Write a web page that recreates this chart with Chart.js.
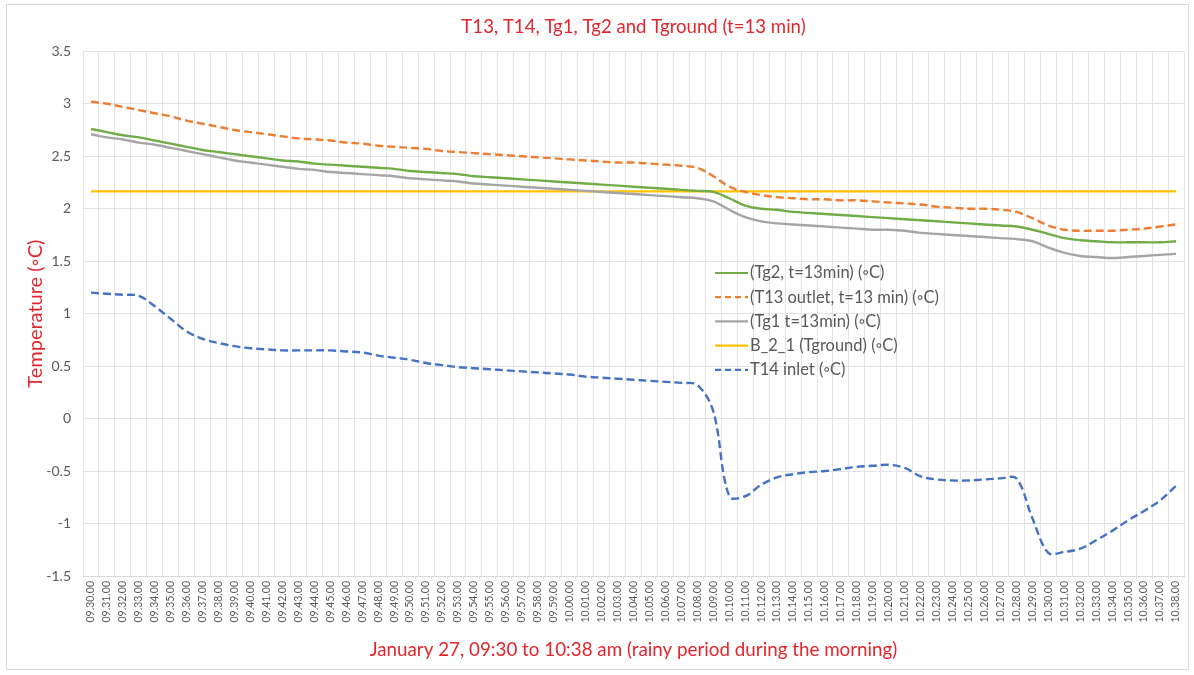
<!DOCTYPE html>
<html>
<head>
<meta charset="utf-8">
<script src="https://cdn.jsdelivr.net/npm/chart.js@4.4.1/dist/chart.umd.min.js"></script>
<style>
  html, body { margin: 0; padding: 0; background: #fff; }
  #wrap { position: relative; width: 1194px; height: 675px; }
  #frame { position: absolute; left: 6px; top: 4px; width: 1183px; height: 666px; border: 1px solid #d9d9d9; box-sizing: border-box; pointer-events: none; }
</style>
</head>
<body>
<div id="wrap">
  <canvas id="chartTemp" width="1194" height="675"></canvas>
  <div id="frame"></div>
</div>
<script>
const RED = "#e3262d", AXIS = "#595959", GRID = "#e3e3e3";
const FONT = "Lato, 'Open Sans', sans-serif";

// minutes 09:30 .. 10:38
const times = [
  "09.30.00","09.31.00","09.32.00","09.33.00","09.34.00","09.35.00","09.36.00","09.37.00","09.38.00","09.39.00",
  "09.40.00","09.41.00","09.42.00","09.43.00","09.44.00","09.45.00","09.46.00","09.47.00","09.48.00","09.49.00",
  "09.50.00","09.51.00","09.52.00","09.53.00","09.54.00","09.55.00","09.56.00","09.57.00","09.58.00","09.59.00",
  "10.00.00","10.01.00","10.02.00","10.03.00","10.04.00","10.05.00","10.06.00","10.07.00","10.08.00","10.09.00",
  "10.10.00","10.11.00","10.12.00","10.13.00","10.14.00","10.15.00","10.16.00","10.17.00","10.18.00","10.19.00",
  "10.20.00","10.21.00","10.22.00","10.23.00","10.24.00","10.25.00","10.26.00","10.27.00","10.28.00","10.29.00",
  "10.30.00","10.31.00","10.32.00","10.33.00","10.34.00","10.35.00","10.36.00","10.37.00","10.38.00"
];

const tg2 = [
  2.76,2.73,2.70,2.68,2.65,2.62,2.59,2.56,2.54,2.52,
  2.50,2.48,2.46,2.45,2.43,2.42,2.41,2.40,2.39,2.38,
  2.36,2.35,2.34,2.33,2.31,2.30,2.29,2.28,2.27,2.26,
  2.25,2.24,2.23,2.22,2.21,2.20,2.19,2.18,2.17,2.16,
  2.10,2.03,2.00,1.99,1.97,1.96,1.95,1.94,1.93,1.92,
  1.91,1.90,1.89,1.88,1.87,1.86,1.85,1.84,1.83,1.80,
  1.76,1.72,1.70,1.69,1.68,1.68,1.68,1.68,1.69
];
const t13 = [
  3.02,3.00,2.97,2.94,2.91,2.88,2.84,2.81,2.78,2.75,
  2.73,2.71,2.69,2.67,2.66,2.65,2.63,2.62,2.60,2.59,
  2.58,2.57,2.55,2.54,2.53,2.52,2.51,2.50,2.49,2.48,
  2.47,2.46,2.45,2.44,2.44,2.43,2.42,2.41,2.39,2.31,
  2.21,2.16,2.13,2.11,2.10,2.09,2.09,2.08,2.08,2.07,
  2.06,2.05,2.04,2.02,2.01,2.00,2.00,1.99,1.97,1.91,
  1.84,1.80,1.79,1.79,1.79,1.80,1.81,1.83,1.85
];
const tg1 = [
  2.71,2.68,2.66,2.63,2.61,2.58,2.55,2.52,2.49,2.46,
  2.44,2.42,2.40,2.38,2.37,2.35,2.34,2.33,2.32,2.31,
  2.29,2.28,2.27,2.26,2.24,2.23,2.22,2.21,2.20,2.19,
  2.18,2.17,2.16,2.15,2.14,2.13,2.12,2.11,2.10,2.07,
  1.99,1.92,1.88,1.86,1.85,1.84,1.83,1.82,1.81,1.80,
  1.80,1.79,1.77,1.76,1.75,1.74,1.73,1.72,1.71,1.69,
  1.63,1.58,1.55,1.54,1.53,1.54,1.55,1.56,1.57
];
const tground = times.map(() => 2.165);
const t14 = [
  1.20,1.19,1.18,1.17,1.07,0.95,0.83,0.76,0.72,0.69,
  0.67,0.66,0.65,0.65,0.65,0.65,0.64,0.63,0.60,0.58,
  0.56,0.53,0.51,0.49,0.48,0.47,0.46,0.45,0.44,0.43,
  0.42,0.40,0.39,0.38,0.37,0.36,0.35,0.34,0.32,0.07,
  -0.74,-0.74,-0.63,-0.56,-0.53,-0.51,-0.50,-0.48,-0.46,-0.45,
  -0.44,-0.47,-0.55,-0.58,-0.59,-0.59,-0.58,-0.57,-0.57,-0.95,
  -1.28,-1.27,-1.24,-1.16,-1.07,-0.97,-0.88,-0.78,-0.64
];

const seriesLabels = ["(Tg2, t=13min) (\u25e6C)", "(T13 outlet, t=13 min) (\u25e6C)", "(Tg1 t=13min) (\u25e6C)", "B_2_1 (Tground) (\u25e6C)", "T14 inlet (\u25e6C)"];
const seriesColors = ["#70ad47", "#ed7d31", "#a5a5a5", "#ffc000", "#4472c4"];
const seriesDash = [[], [8, 4], [], [], [8, 4]];
const seriesData = [tg2, t13, tg1, tground, t14];

// legend sitting inside the plot, like the Excel one
const insideLegend = {
    id: "insideLegend",
    afterDraw(chart) {
        const ctx = chart.ctx;
        const x0 = 715, y0 = 273, step = 24.2;
        ctx.save();
        ctx.font = "16.5px " + FONT;
        ctx.textBaseline = "middle";
        chart.data.datasets.forEach((ds, i) => {
            const y = y0 + i * step;
            ctx.strokeStyle = ds.borderColor;
            ctx.lineWidth = 2.2;
            ctx.setLineDash(ds.borderDash && ds.borderDash.length ? [6, 4] : []);
            ctx.beginPath();
            ctx.moveTo(x0, y);
            ctx.lineTo(x0 + 33, y);
            ctx.stroke();
            ctx.setLineDash([]);
            ctx.fillStyle = AXIS;
            ctx.fillText(ds.label, x0 + 35, y);
        });
        ctx.restore();
    }
};

new Chart(document.getElementById("chartTemp"), {
    type: "line",
    data: {
        labels: times,
        datasets: seriesData.map((d, i) => ({
            label: seriesLabels[i],
            data: d,
            borderColor: seriesColors[i],
            backgroundColor: seriesColors[i],
            borderDash: seriesDash[i],
            borderWidth: 2.4,
            pointRadius: 0,
            tension: 0.35,
            fill: false,
        })),
    },
    options: {
        responsive: false,
        animation: false,
        layout: {padding: {left: 0, right: 10, top: 0, bottom: 0}},
        plugins: {
            legend: {display: false},
            tooltip: {enabled: false},
            title: {
                display: true,
                fullSize: false,
                text: "T13, T14, Tg1, Tg2 and Tground (t=13 min)",
                color: RED,
                font: {family: FONT, size: 18.6, weight: "normal"},
                padding: {top: 16, bottom: 13},
            },
        },
        scales: {
            x: {
                offset: true,
                grid: {color: GRID, offset: true, drawTicks: false},
                border: {color: "#d9d9d9"},
                ticks: {
                    autoSkip: false, minRotation: 90, maxRotation: 90,
                    color: AXIS, font: {family: FONT, size: 10.5}, padding: 5,
                },
                title: {
                    display: true,
                    text: "January 27, 09:30 to 10:38 am (rainy period during the morning)",
                    color: RED,
                    font: {family: FONT, size: 18.8},
                    padding: {top: 4, bottom: 14},
                },
                afterFit: s => { s.height = 99; },
            },
            y: {
                min: -1.5, max: 3.5,
                ticks: {
                    stepSize: 0.5, color: AXIS, font: {family: FONT, size: 14}, padding: 12,
                    callback: v => String(v),
                },
                grid: {color: GRID, drawTicks: false},
                border: {display: false},
                title: {
                    display: true,
                    text: "Temperature (\u25e6C)",
                    color: RED,
                    font: {family: FONT, size: 20},
                    padding: {top: 24, bottom: 0},
                },
                afterFit: s => { s.width = 83; },
            },
        },
    },
    plugins: [insideLegend],
});
</script>
</body>
</html>
